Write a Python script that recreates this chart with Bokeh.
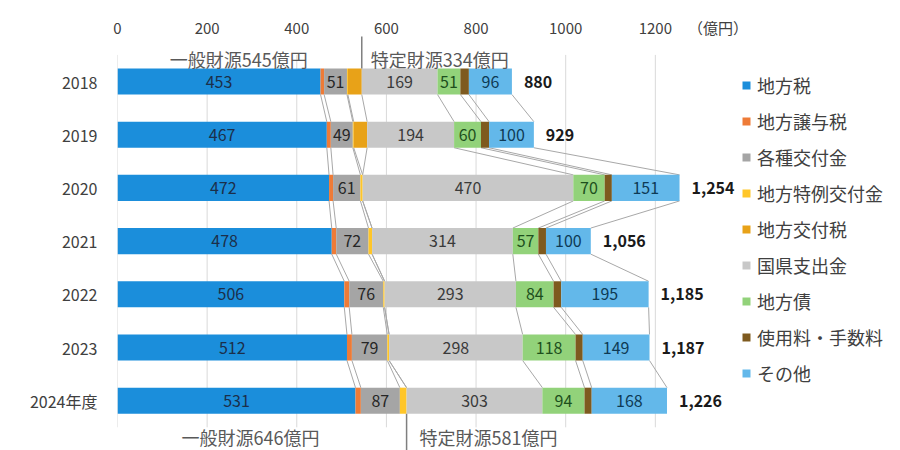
import numpy as np
from bokeh.plotting import figure
from bokeh.models import ColumnDataSource, Range1d, FixedTicker, Legend, LegendItem
from bokeh.core.properties import value
from bokeh.embed import file_html
from bokeh.resources import INLINE

# ---------------- data ----------------
years = ["2018", "2019", "2020", "2021", "2022", "2023", "2024年度"]
series_names = ["地方税", "地方譲与税", "各種交付金", "地方特例交付金", "地方交付税",
                "国県支出金", "地方債", "使用料・手数料", "その他"]
chihozei = [453, 467, 472, 478, 506, 512, 531]
joyozei = [8, 9, 9, 10, 11, 11, 12]
kakushu = [51, 49, 61, 72, 76, 79, 87]
tokurei = [2, 2, 5, 8, 3, 4, 15]
kofuzei = [31, 30, 0, 0, 0, 0, 0]
kokken = [169, 194, 470, 314, 293, 298, 303]
chihosai = [51, 60, 70, 57, 84, 118, 94]
shiyoryo = [19, 18, 16, 17, 17, 16, 16]
sonota = [96, 100, 151, 100, 195, 149, 168]
totals = [880, 929, 1254, 1056, 1185, 1187, 1226]
x_ticks = [0, 200, 400, 600, 800, 1000, 1200]
unit_label = "（億円）"
unit_pos = 1340
top_notes = ["一般財源545億円", "特定財源334億円"]
bottom_notes = ["一般財源646億円", "特定財源581億円"]

colors = ["#1B8EDB", "#EE7B37", "#A5A5A5", "#FFC629", "#E8A218",
          "#C8C8C8", "#92D27A", "#7E5A1F", "#63B8EA"]
label_series = [0, 2, 5, 6, 8]
label_colors = {0: "#1B2F4A", 2: "#262626", 5: "#3A3A3A", 6: "#1D4F1D", 8: "#0E3A55"}

FONT = "Noto Sans CJK JP"
BAR_H = 0.49

values_list = [chihozei, joyozei, kakushu, tokurei, kofuzei, kokken, chihosai, shiyoryo, sonota]
vals = np.array(values_list, dtype=float).T          # (years, series)
n = len(years)
yidx = np.arange(n)
cum = np.hstack([np.zeros((n, 1)), np.cumsum(vals, axis=1)])   # (years, series+1)

keys = [f"s{k}" for k in range(len(series_names))]
src = ColumnDataSource(dict(y=yidx, **{keys[k]: vals[:, k] for k in range(len(keys))}))

p = figure(width=900, height=450, output_backend="svg", toolbar_location=None,
           x_range=Range1d(0, 1747), y_range=Range1d(6.936, -0.846),
           x_axis_location="above", min_border_left=117, min_border_right=0,
           min_border_top=36, min_border_bottom=0)
p.outline_line_color = None
p.background_fill_color = "white"
p.xgrid.grid_line_color = None
p.ygrid.grid_line_color = None

# gridlines
p.segment(x0=x_ticks, x1=x_ticks, y0=[-0.5] * len(x_ticks), y1=[n - 0.5] * len(x_ticks),
          line_color="#D9D9D9", line_width=1)

# series lines between bars
sx0, sx1, sy0, sy1 = [], [], [], []
for i in range(n - 1):
    for k in range(1, len(series_names) + 1):
        sx0.append(cum[i, k]); sx1.append(cum[i + 1, k])
        sy0.append(i + BAR_H / 2); sy1.append(i + 1 - BAR_H / 2)
p.segment(x0=sx0, x1=sx1, y0=sy0, y1=sy1, line_color="#A8A8A8", line_width=1)

renderers = p.hbar_stack(keys, y="y", height=BAR_H, color=colors, line_color=None, source=src)

# segment labels
for k in label_series:
    p.text(x=list(cum[:, k] + vals[:, k] / 2), y=list(yidx), text=[str(int(v)) for v in vals[:, k]],
           text_align="center", text_baseline="middle", text_font=value(FONT),
           text_font_size="16px", text_color=label_colors[k])

# totals
p.text(x=totals, y=list(yidx), text=[f"{t:,}" for t in totals], x_offset=12,
       text_align="left", text_baseline="middle", text_font=value(FONT),
       text_font_size="16px", text_font_style="bold", text_color="#1A1A1A")

# general / specific dividers
gen_first = cum[0, 5]
gen_last = cum[-1, 5]
p.segment(x0=[gen_first], x1=[gen_first], y0=[-1.2], y1=[-BAR_H / 2],
          line_color="#7F7F7F", line_width=1.5)
p.segment(x0=[gen_last], x1=[gen_last], y0=[n - 1 + BAR_H / 2], y1=[n + 0.5],
          line_color="#7F7F7F", line_width=1.5)
p.text(x=[gen_first, gen_first], y=[-0.42, -0.42], text=top_notes, x_offset=[-123, 9],
       text_align=["center", "left"], text_baseline="middle", text_font=value(FONT),
       text_font_size="18px", text_color="#595959")
p.text(x=[gen_last, gen_last], y=[n - 1 + 0.68] * 2, text=bottom_notes, x_offset=[-156, 13],
       text_align=["center", "left"], text_baseline="middle", text_font=value(FONT),
       text_font_size="18px", text_color="#595959")

# axes
p.xaxis.ticker = FixedTicker(ticks=x_ticks + [unit_pos])
p.xaxis.major_label_overrides = {unit_pos: unit_label}
p.xaxis.axis_line_color = None
p.xaxis.major_tick_line_color = None
p.xaxis.minor_tick_line_color = None
p.xaxis.major_label_standoff = -7
p.xaxis.major_label_text_font = FONT
p.xaxis.major_label_text_font_size = "15px"
p.xaxis.major_label_text_color = "#404040"

p.yaxis.ticker = FixedTicker(ticks=list(yidx))
p.yaxis.major_label_overrides = {int(i): years[i] for i in yidx}
p.yaxis.axis_line_color = None
p.yaxis.major_tick_line_color = None
p.yaxis.minor_tick_line_color = None
p.yaxis.major_label_standoff = 14
p.yaxis.major_label_text_font = FONT
p.yaxis.major_label_text_font_size = "16px"
p.yaxis.major_label_text_color = "#404040"

legend = Legend(items=[LegendItem(label=series_names[k], renderers=[renderers[k]])
                       for k in range(len(series_names))],
                location=(624, 64), glyph_width=10, glyph_height=10, label_height=26,
                spacing=10, padding=0, margin=0, label_standoff=6,
                background_fill_alpha=0, border_line_color=None,
                label_text_font=FONT, label_text_font_size="18px", label_text_color="#404040")
p.add_layout(legend)

open("out.html", "w").write(file_html(p, INLINE))
